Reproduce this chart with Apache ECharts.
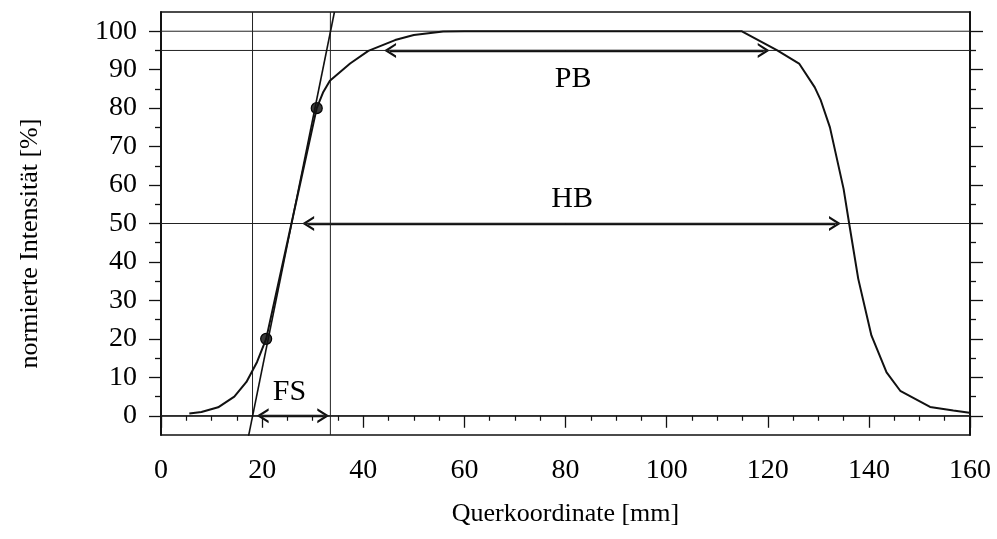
<!DOCTYPE html>
<html>
<head>
<meta charset="utf-8">
<script src="https://cdn.jsdelivr.net/npm/echarts@6/dist/echarts.min.js"></script>
<style>
  html, body { margin: 0; padding: 0; background: #fff; }
  #chart { width: 997px; height: 539px; }
</style>
</head>
<body>
<div id="chart"></div>
<script>
// Transverse intensity profile (normalised), position in mm
const profileX = [5.6, 8.0, 11.3, 14.5, 16.9, 19.0, 20.8, 25.8, 30.8, 32.1, 33.4, 37.4, 41.0, 46.3, 50.0, 55.8, 60.0,
                  114.8, 121.8, 126.2, 129.3, 130.5, 132.3, 135.0, 136.1, 137.9, 140.5, 143.5, 146.2, 152.1, 156.7, 159.9];
const profileY = [0.6, 1.0, 2.2, 5.0, 8.8, 14.0, 20.0, 50.0, 80.0, 84.2, 87.1, 91.6, 94.9, 97.7, 99.0, 99.9, 100.0,
                  100.0, 95.1, 91.6, 85.4, 82.0, 75.0, 59.0, 50.0, 35.6, 20.9, 11.3, 6.5, 2.3, 1.4, 0.8];

// 20 % / 80 % support points of the edge
const markerX = [20.8, 30.8];
const markerY = [20, 80];

// Edge tangent through the 20/80 points
const tangentX = [17.2, 34.3];
const tangentY = [-6, 105];

// Horizontal reference levels [%]
const levelY = [0, 50, 95, 100];

// Vertical markers where the tangent meets 0 % and 100 %
const edgeX = [18.1, 33.5];
const edgeFromY = [0, -5];
const edgeToY = [105, 105];

// Width arrows: plateau (PB), half width (HB), edge (FS)
const arrowNames = ['PB', 'HB', 'FS'];
const arrowLevel = [95, 50, 0];
const arrowFrom = [45.3, 29.1, 20.1];
const arrowTo = [119.2, 133.3, 32.1];

// Arrow captions
const noteX = [81.5, 81.3, 25.4];
const noteY = [87.5, 56.4, 6.2];

// Axis ticks
const xTicks = [0, 20, 40, 60, 80, 100, 120, 140, 160];
const yTicks = [0, 10, 20, 30, 40, 50, 60, 70, 80, 90, 100];
const yMinorTicks = [5, 15, 25, 35, 45, 55, 65, 75, 85, 95];

const serif = '"Liberation Serif", "DejaVu Serif", serif';
const ink = '#111';
// open arrow head, tip at the top of the path box
const chevron = 'path://M10,0 L20,12 L16.8,12 L10,4.2 L3.2,12 L0,12 Z';

const chart = echarts.init(document.getElementById('chart'), null, { renderer: 'canvas' });

function yAxisDef(side, ticks, len, withLabels) {
  return {
    type: 'value', position: side, min: -5, max: 105,
    axisLine: { show: true, lineStyle: { color: ink, width: 1.5 } },
    axisTick: { show: true, inside: false, length: len, customValues: ticks,
                lineStyle: { color: ink, width: 1.3 } },
    axisLabel: withLabels
      ? { show: true, customValues: ticks, margin: 24, fontFamily: serif, fontSize: 28, color: '#000' }
      : { show: false },
    splitLine: { show: false }
  };
}

const leftAxis = yAxisDef('left', yTicks, 12, true);
leftAxis.name = 'normierte Intensität [%]';
leftAxis.nameLocation = 'middle';
leftAxis.nameGap = 118;
leftAxis.nameTextStyle = { fontFamily: serif, fontSize: 26, color: '#000', padding: [0, 40, 0, 0] };

const series = [];

levelY.forEach(function (lv) {
  series.push({
    type: 'line', data: [[0, lv], [160, lv]], symbol: 'none', silent: true,
    lineStyle: { color: '#222', width: 1 }
  });
});

edgeX.forEach(function (x, i) {
  series.push({
    type: 'line', data: [[x, edgeFromY[i]], [x, edgeToY[i]]], symbol: 'none', silent: true,
    lineStyle: { color: '#222', width: 1 }
  });
});

series.push({
  type: 'line', data: tangentX.map(function (x, i) { return [x, tangentY[i]]; }),
  symbol: 'none', silent: true, lineStyle: { color: ink, width: 1.6 }
});

series.push({
  type: 'line', data: profileX.map(function (x, i) { return [x, profileY[i]]; }),
  symbol: 'none', silent: true, lineStyle: { color: ink, width: 2 }
});

series.push({
  type: 'scatter', data: markerX.map(function (x, i) { return [x, markerY[i]]; }),
  symbol: 'circle', symbolSize: 11, silent: true,
  itemStyle: { color: '#3a3a3a', borderColor: '#000', borderWidth: 1.2, opacity: 1 }
});

series.push({
  type: 'lines', coordinateSystem: 'cartesian2d', silent: true,
  symbol: [chevron, chevron], symbolSize: [[15, 12], [15, 12]],
  lineStyle: { color: ink, width: 2.3, opacity: 1 },
  data: arrowNames.map(function (n, i) {
    return { name: n, coords: [[arrowFrom[i], arrowLevel[i]], [arrowTo[i], arrowLevel[i]]] };
  })
});

series.push({
  type: 'scatter', symbolSize: 0, silent: true,
  itemStyle: { opacity: 1 },
  data: arrowNames.map(function (n, i) { return { name: n, value: [noteX[i], noteY[i]] }; }),
  label: {
    show: true, position: 'inside', formatter: '{b}', opacity: 1,
    fontFamily: serif, fontSize: 30, color: '#000'
  }
});

chart.setOption({
  animation: false,
  backgroundColor: '#fff',
  grid: { left: 161, right: 27, top: 12, bottom: 104, show: true, borderColor: ink, borderWidth: 1.5 },
  xAxis: {
    type: 'value', min: 0, max: 160, interval: 20,
    axisLine: { show: true, lineStyle: { color: ink, width: 1.5 } },
    axisTick: { show: true, inside: false, length: 12, lineStyle: { color: ink, width: 1.3 } },
    minorTick: { show: true, splitNumber: 4, length: 5, lineStyle: { color: ink, width: 1.2 } },
    axisLabel: { margin: 22, fontFamily: serif, fontSize: 28, color: '#000',
                 formatter: function (v) { return xTicks.indexOf(v) >= 0 ? String(v) : ''; } },
    splitLine: { show: false },
    name: 'Querkoordinate [mm]', nameLocation: 'middle', nameGap: 66,
    nameTextStyle: { fontFamily: serif, fontSize: 26, color: '#000' }
  },
  yAxis: [
    leftAxis,
    yAxisDef('left', yMinorTicks, 6, false),
    yAxisDef('right', yTicks, 13, false),
    yAxisDef('right', yMinorTicks, 6, false)
  ],
  series: series
});
</script>
</body>
</html>
